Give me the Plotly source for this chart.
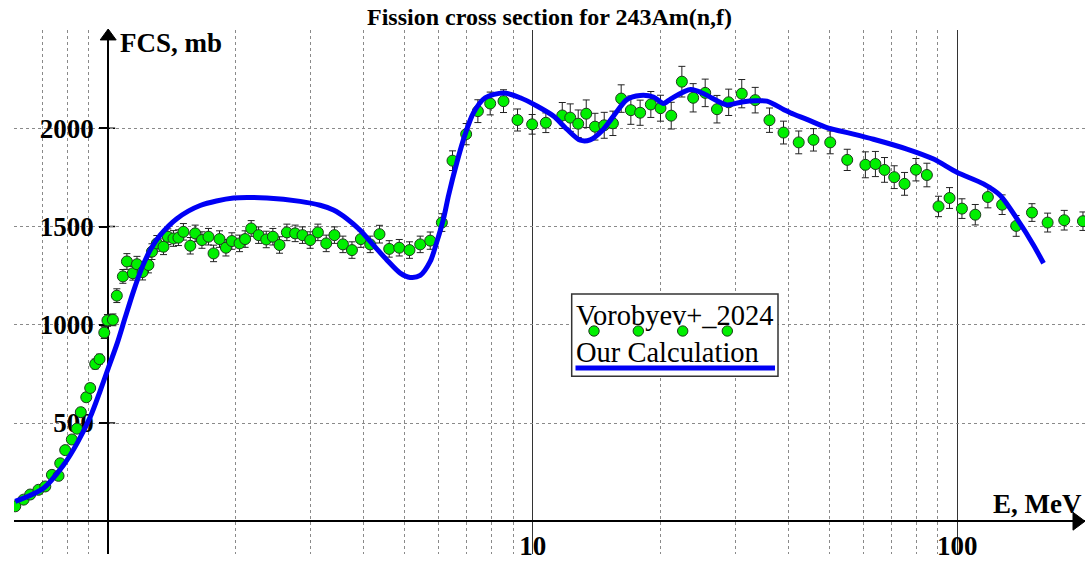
import math
import plotly.graph_objects as go

# ---------------- data ----------------
# Vorobyev+_2024 experimental points: energy (MeV), cross section (mb), error (mb)
exp_energy = [0.604, 0.632, 0.655, 0.685, 0.711, 0.737, 0.764, 0.771, 0.792, 0.821,
              0.844, 0.862, 0.888, 0.907, 0.932, 0.954, 0.979, 0.996, 1.026, 1.048,
              1.083, 1.107, 1.143, 1.169, 1.205, 1.244, 1.268, 1.302, 1.350, 1.382,
              1.425, 1.464, 1.504, 1.561, 1.603, 1.663, 1.723, 1.771, 1.829, 1.894,
              1.956, 2.039, 2.102, 2.172, 2.261, 2.357, 2.443, 2.533, 2.636, 2.757,
              2.869, 2.991, 3.119, 3.263, 3.412, 3.572, 3.752, 3.938, 4.142, 4.356,
              4.592, 4.849, 5.126, 5.433, 5.736, 6.110, 6.473, 6.970, 7.428, 7.941,
              8.536, 9.209, 9.97, 10.74, 11.74, 12.26, 12.80, 13.37, 14.02, 14.74,
              15.45, 16.16, 17.03, 17.91, 18.98, 20.0, 21.20, 22.46, 23.88, 25.49,
              27.17, 28.95, 31.08, 33.43, 36.12, 38.98, 42.33, 45.86, 50.22, 55.07,
              60.77, 64.17, 67.42, 71.06, 75.15, 79.94, 84.84, 90.36, 95.92, 102.6,
              110.3, 118.1, 127.6, 137.7, 150.0, 163.3, 178.7, 197.8]
exp_fcs = [76, 110, 136, 160, 177, 236, 231, 295, 362, 416,
           471, 555, 631, 678, 800, 825, 960, 1022, 1025, 1148,
           1246, 1322, 1262, 1308, 1268, 1304, 1372, 1414, 1397, 1448,
           1439, 1443, 1473, 1402, 1465, 1431, 1448, 1363, 1436, 1392,
           1426, 1414, 1436, 1490, 1456, 1434, 1448, 1406, 1470, 1465,
           1456, 1431, 1470, 1414, 1456, 1409, 1380, 1436, 1409, 1461,
           1386, 1392, 1380, 1409, 1428, 1520, 1835, 1970, 2087, 2126,
           2138, 2042, 2020, 2028, 2065, 2054, 2023, 2074, 2008, 2015,
           2025, 2151, 2092, 2079, 2121, 2102, 2064, 2237, 2155, 2180,
           2097, 2132, 2176, 2143, 2041, 1978, 1928, 1941, 1928, 1839,
           1814, 1818, 1788, 1751, 1717, 1789, 1762, 1602, 1645, 1591,
           1560, 1650, 1611, 1503, 1571, 1520, 1532, 1527]
exp_err = [8, 10, 10, 12, 12, 15, 15, 15, 18, 18,
           20, 20, 22, 22, 25, 25, 30, 30, 30, 35,
           35, 40, 35, 40, 40, 40, 40, 40, 40, 40,
           40, 40, 42, 42, 42, 42, 42, 42, 42, 42,
           42, 42, 42, 40, 42, 42, 42, 42, 42, 42,
           42, 42, 42, 42, 42, 42, 42, 42, 42, 45,
           42, 42, 42, 42, 44, 45, 50, 54, 58, 58,
           58, 56, 50, 50, 66, 70, 70, 70, 68, 66,
           62, 70, 72, 64, 66, 66, 68, 78, 72, 70,
           70, 67, 72, 65, 62, 58, 58, 57, 58, 54,
           66, 64, 63, 58, 58, 57, 60, 52, 53, 50,
           52, 55, 50, 53, 45, 48, 50, 47]

# Our Calculation curve: energy (MeV), cross section (mb)
calc_energy = [0.604, 0.704, 0.785, 0.844, 0.907, 0.958, 1.002, 1.048, 1.096, 1.147,
               1.200, 1.256, 1.326, 1.451, 1.647, 1.973, 2.365, 2.834, 3.158, 3.394,
               3.650, 3.923, 4.217, 4.534, 4.875, 5.145, 5.433, 5.736, 5.948, 6.165,
               6.335, 6.630, 6.934, 7.254, 7.728, 8.536, 9.345, 10.23, 11.19, 12.04,
               12.94, 13.66, 14.55, 15.50, 16.67, 17.91, 19.26, 20.33, 21.20, 23.56,
               25.49, 28.67, 31.11, 33.74, 35.62, 38.98, 40.43, 44.25, 49.32, 53.02,
               56.98, 63.50, 76.12, 87.96, 99.8, 115.3, 126.3, 138.2, 151.3, 159.7]
calc_fcs = [101, 168, 286, 395, 530, 665, 783, 900, 1035, 1170,
            1288, 1380, 1456, 1540, 1607, 1645, 1645, 1628, 1608, 1584,
            1540, 1481, 1405, 1330, 1263, 1241, 1251, 1322, 1423, 1540,
            1658, 1827, 1970, 2079, 2155, 2180, 2155, 2113, 2062, 1995,
            1939, 1941, 1986, 2062, 2146, 2167, 2159, 2126, 2151, 2197,
            2172, 2119, 2134, 2140, 2138, 2096, 2079, 2045, 2003, 1986,
            1970, 1944, 1894, 1843, 1776, 1717, 1658, 1540, 1405, 1313]

x_tick_vals = [10, 100]
x_tick_text = ["10", "100"]
x_minor_vals = [0.7, 0.8, 0.9, 2, 3, 4, 5, 6, 7, 8, 9,
                20, 30, 40, 50, 60, 70, 80, 90]
y_tick_vals = [500, 1000, 1500, 2000]
y_tick_text = ["500", "1000", "1500", "2000"]

title_text = "Fission cross section for 243Am(n,f)"
y_label = "FCS, mb"
x_label = "E, MeV"
legend_exp = "Vorobyev+_2024"
legend_calc = "Our Calculation"

# ---------------- geometry ----------------
W, H = 1085, 561
M = dict(l=14, r=0, t=30, b=3)
X_RANGE = [0.6, 200]
Y_RANGE = [-166.7, 2500]
PW = W - M["l"] - M["r"]
PH = H - M["t"] - M["b"]

FONT = "Liberation Serif"
GREEN = "#00f000"
BLUE = "#0000f5"


def xp(e):
    lo, hi = math.log10(X_RANGE[0]), math.log10(X_RANGE[1])
    return (math.log10(e) - lo) / (hi - lo)


def yp(v):
    return (v - Y_RANGE[0]) / (Y_RANGE[1] - Y_RANGE[0])


def pxx(px):
    return (px - M["l"]) / PW


def pxy(py):
    return (H - M["b"] - py) / PH


fig = go.Figure()

fig.add_trace(go.Scatter(
    x=exp_energy, y=exp_fcs, mode="markers", name=legend_exp,
    marker=dict(size=11, color=GREEN, line=dict(color="#1e3a1e", width=1)),
    error_y=dict(type="data", array=exp_err, color="#222222", thickness=1, width=3.5),
    showlegend=False,
))
fig.add_trace(go.Scatter(
    x=calc_energy, y=calc_fcs, mode="lines", name=legend_calc,
    line=dict(color=BLUE, width=5, shape="spline", smoothing=0.8),
    showlegend=False,
))

tick_font = dict(family=FONT, size=27, color="black", weight="bold")

fig.update_layout(
    width=W, height=H, margin=M,
    paper_bgcolor="white", plot_bgcolor="white",
    showlegend=False,
    xaxis=dict(
        type="log",
        range=[math.log10(X_RANGE[0]), math.log10(X_RANGE[1])],
        tickmode="array", tickvals=x_tick_vals, ticktext=x_tick_text,
        tickfont=tick_font, ticks="",
        showgrid=True, gridcolor="#333333", gridwidth=1,
        showline=True, linecolor="black", linewidth=2,
        anchor="free", position=yp(0), zeroline=False,
        layer="below traces",
        minor=dict(tickmode="array", tickvals=x_minor_vals, showgrid=True,
                   gridcolor="#8a8a8a", griddash="dot", gridwidth=1, ticks=""),
    ),
    yaxis=dict(
        range=Y_RANGE,
        tickmode="array", tickvals=y_tick_vals, ticktext=y_tick_text,
        tickfont=tick_font, ticks="outside", ticklen=8, tickwidth=1.5,
        tickcolor="black",
        showgrid=True, gridcolor="#8a8a8a", griddash="dot", gridwidth=1,
        showline=True, linecolor="black", linewidth=2,
        anchor="free", position=xp(1), zeroline=False,
        layer="below traces",
    ),
)

shapes = []
# inner part of y ticks (crossing the axis)
for v in y_tick_vals:
    shapes.append(dict(type="line", xref="paper", yref="paper", layer="below",
                       x0=xp(1), x1=xp(1) + 7 / PW, y0=yp(v), y1=yp(v),
                       line=dict(color="black", width=1.5)))
# arrow heads
ax0, ay0 = xp(1), yp(0)
shapes.append(dict(type="path", xref="paper", yref="paper",
                   path=f"M {ax0 - 8 / PW} {1 - 10 / PH} L {ax0} {1 + 1 / PH} L {ax0 + 8 / PW} {1 - 10 / PH} Z",
                   fillcolor="black", line=dict(color="black", width=1)))
shapes.append(dict(type="path", xref="paper", yref="paper",
                   path=f"M {1 - 12 / PW} {ay0 + 9 / PH} L 1 {ay0} L {1 - 12 / PW} {ay0 - 9 / PH} Z",
                   fillcolor="black", line=dict(color="black", width=1)))
# legend box
shapes.append(dict(type="rect", xref="paper", yref="paper", layer="above",
                   x0=pxx(571.7), x1=pxx(778), y0=pxy(379), y1=pxy(296),
                   fillcolor="white", line=dict(color="#333333", width=1.5)))
for cx in (594, 638.3, 682.7, 727.3):
    shapes.append(dict(type="circle", xref="paper", yref="paper", layer="above",
                       x0=pxx(cx - 5.2), x1=pxx(cx + 5.2),
                       y0=pxy(333.3 + 5.2), y1=pxy(333.3 - 5.2),
                       fillcolor=GREEN, line=dict(color="#1e3a1e", width=1)))
shapes.append(dict(type="line", xref="paper", yref="paper", layer="above",
                   x0=pxx(575.5), x1=pxx(775), y0=pxy(370.7), y1=pxy(370.7),
                   line=dict(color=BLUE, width=5)))
fig.update_layout(shapes=shapes)

annotations = [
    dict(text=f"<b>{title_text}</b>", xref="paper", yref="paper",
         x=pxx(549), y=pxy(17), xanchor="center", yanchor="middle",
         showarrow=False, font=dict(family=FONT, size=24, color="black")),
    dict(text=f"<b>{y_label}</b>", xref="paper", yref="paper",
         x=pxx(118), y=pxy(43), xanchor="left", yanchor="middle",
         showarrow=False, font=dict(family=FONT, size=27, color="black")),
    dict(text=f"<b>{x_label}</b>", xref="paper", yref="paper",
         x=pxx(1084), y=pxy(508), xanchor="right", yanchor="middle",
         showarrow=False, font=dict(family=FONT, size=27, color="black")),
    dict(text=legend_exp, xref="paper", yref="paper",
         x=pxx(574), y=pxy(318), xanchor="left", yanchor="middle",
         showarrow=False, font=dict(family=FONT, size=28.5, color="black")),
    dict(text=legend_calc, xref="paper", yref="paper",
         x=pxx(574), y=pxy(355), xanchor="left", yanchor="middle",
         showarrow=False, font=dict(family=FONT, size=28.5, color="black")),
]
fig.update_layout(annotations=annotations)

fig.write_html("out.html")
